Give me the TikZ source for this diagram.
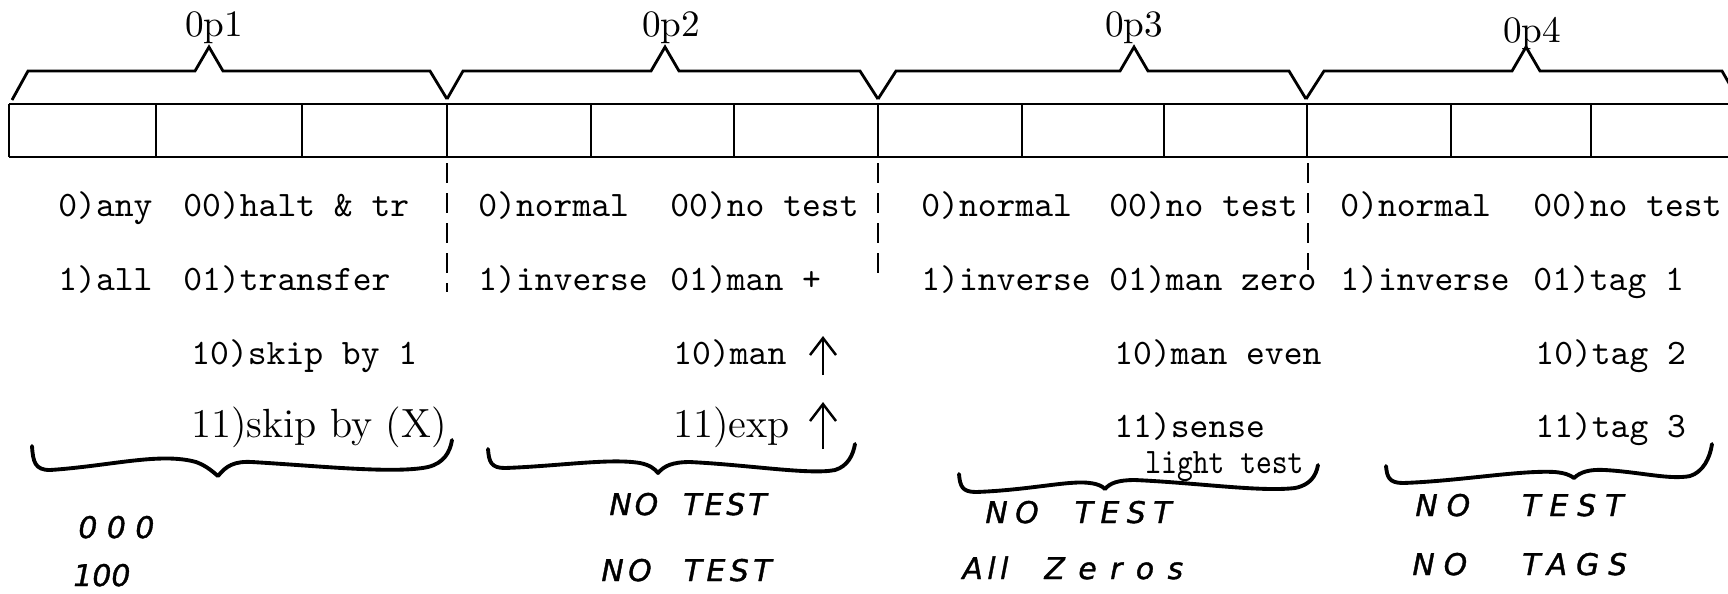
\documentclass[tikz,border=0pt]{standalone}
\usepackage{fontspec}
\usepackage{tikz}
\usetikzlibrary{arrows.meta}
\newfontfamily\handfont{DejaVu Sans}

\begin{document}
\begin{tikzpicture}[x=0.1mm, y=-0.1mm, line width=0.8pt,
  mono/.style={anchor=base west, inner sep=0pt, font=\fontsize{10.2}{12}\selectfont\ttfamily},
  serif/.style={anchor=base west, inner sep=0pt, font=\fontsize{11.6}{13}\selectfont\rmfamily},
  oplabel/.style={anchor=base, inner sep=0pt, font=\fontsize{10.6}{12}\selectfont\rmfamily},
  hand/.style={anchor=base west, inner sep=0pt, font=\fontsize{8.5}{10}\selectfont\handfont\itshape\addfontfeature{LetterSpace=#1, FakeBold=1.2}},
  hand/.default=0,
  divider/.style={line width=0.7pt, dash pattern=on 2mm off 1mm},
  uparrow/.style={line width=0.7pt, -{Straight Barb[length=1.7mm, width=2.6mm]}},
  handbrace/.style={line width=1.1pt, line cap=round, line join=round}]
\useasboundingbox (0,0) rectangle (1728,593);
\clip (0,0) rectangle (1728,593);

\draw (9,104) -- (1740,104);
\draw (9,157) -- (1740,157);
\foreach \x in {9,156,302,447,591,734,878,1022,1164,1307,1451,1591}
  \draw (\x,104) -- (\x,157);

\draw (12,100) -- (28,71) -- (195,71) -- (209,47) -- (223,71) -- (430,71) -- (447,99);
\draw (447,99) -- (463,71) -- (651,71) -- (665,47) -- (679,71) -- (860,71) -- (878,99);
\draw (878,99) -- (896,71) -- (1120,71) -- (1134,47) -- (1148,71) -- (1289,71) -- (1306,99);
\draw (1306,99) -- (1324,71) -- (1512,71) -- (1526,47) -- (1540,71) -- (1722,71) -- (1738,99);
\node[oplabel] at (214,36) (op1) {0p1};
\node[oplabel] at (671,36) (op2) {0p2};
\node[oplabel] at (1134,36) (op3) {0p3};
\node[oplabel] at (1532,42) (op4) {0p4};

\coordinate (d1a) at (447,163);
\coordinate (d1b) at (447,292);
\draw[divider] (d1a) -- (d1b);
\coordinate (d2a) at (878,163);
\coordinate (d2b) at (878,282);
\draw[divider] (d2a) -- (d2b);
\coordinate (d3a) at (1308,163);
\coordinate (d3b) at (1308,270);
\draw[divider] (d3a) -- (d3b);

\node[mono] at (57,216) (any) {0)any};
\node[mono] at (57,290) (all) {1)all};
\node[mono] at (182,216) (halt) {00)halt \& tr};
\node[mono] at (182,290) (transfer) {01)transfer};
\node[mono] at (190,364) (skipone) {10)skip by 1};
\node[serif] at (190,437) (skipx) {11)skip by (X)};

\node[mono] at (477,216) (normal2) {0)normal};
\node[mono] at (477,290) (inverse2) {1)inverse};
\node[mono] at (669,216) (notest2) {00)no test};
\node[mono] at (669,290) (manplus) {01)man +};
\node[mono] at (672,364) (manup) {10)man};
\node[serif] at (672,437) (expup) {11)exp};
\coordinate (a1s) at (823,375);
\coordinate (a1e) at (823,336);
\draw[uparrow] (a1s) -- (a1e);
\coordinate (a2s) at (823,449);
\coordinate (a2e) at (823,402);
\draw[uparrow] (a2s) -- (a2e);

\node[mono] at (920,216) (normal3) {0)normal};
\node[mono] at (920,290) (inverse3) {1)inverse};
\node[mono] at (1108,216) (notest3) {00)no test};
\node[mono] at (1108,290) (manzero) {01)man zero};
\node[mono] at (1113,364) (maneven) {10)man even};
\node[mono] at (1113,437) (sense) {11)sense};
\node[mono] at (1144,473) (light) {\scalebox{0.84}[1]{light test}};

\node[mono] at (1339,216) (normal4) {0)normal};
\node[mono] at (1339,290) (inverse4) {1)inverse};
\node[mono] at (1532,216) (notest4) {00)no test};
\node[mono] at (1532,290) (tagone) {01)tag 1};
\node[mono] at (1534,364) (tagtwo) {10)tag 2};
\node[mono] at (1534,437) (tagthree) {11)tag 3};

\draw[handbrace] (32,446) .. controls (33,462) and (35,470) .. (50,470) .. controls (110,466) and (160,452) .. (196,462) .. controls (207,466) and (213,472) .. (218,476) .. controls (226,466) and (234,461) .. (252,462) .. controls (320,466) and (395,474) .. (428,467) .. controls (444,463) and (450,452) .. (452,440);
\draw[handbrace] (488,449) .. controls (489,462) and (491,468) .. (505,468) .. controls (560,466) and (610,458) .. (640,463) .. controls (650,465) and (655,469) .. (658,473) .. controls (664,466) and (672,462) .. (690,462) .. controls (750,465) and (810,475) .. (835,470) .. controls (848,466) and (853,455) .. (855,444);
\draw[handbrace] (959,474) .. controls (960,486) and (962,492) .. (976,492) .. controls (1030,490) and (1070,480) .. (1090,483) .. controls (1098,484) and (1102,486) .. (1105,489) .. controls (1110,483) and (1118,480) .. (1135,480) .. controls (1200,483) and (1260,492) .. (1295,488) .. controls (1310,485) and (1316,476) .. (1318,465);
\draw[handbrace] (1386,466) .. controls (1387,477) and (1389,483) .. (1403,483) .. controls (1460,481) and (1520,470) .. (1555,472) .. controls (1565,473) and (1570,475) .. (1574,478) .. controls (1580,472) and (1590,469) .. (1605,470) .. controls (1640,472) and (1670,480) .. (1690,476) .. controls (1703,472) and (1710,458) .. (1712,444);

\node[hand] at (77,538) (zeros) {0 0 0};
\node[hand] at (72,586) (onezero) {100};
\node[hand=10] at (608,515) (notesta) {NO\hspace{2.5mm}TEST};
\node[hand=15] at (600,581) (notestb) {NO\hspace{3.2mm}TEST};
\node[hand=25] at (984,523) (notestc) {NO\hspace{3.6mm}TEST};
\node[hand=15] at (961,579) (allzeros) {All\hspace{3.6mm}{\addfontfeature{LetterSpace=45}Zeros}};
\node[hand=30] at (1414,516) (notestd) {NO\hspace{5.2mm}TEST};
\node[hand=30] at (1411,575) (notags) {NO\hspace{5.5mm}TAGS};
\end{tikzpicture}
\end{document}
